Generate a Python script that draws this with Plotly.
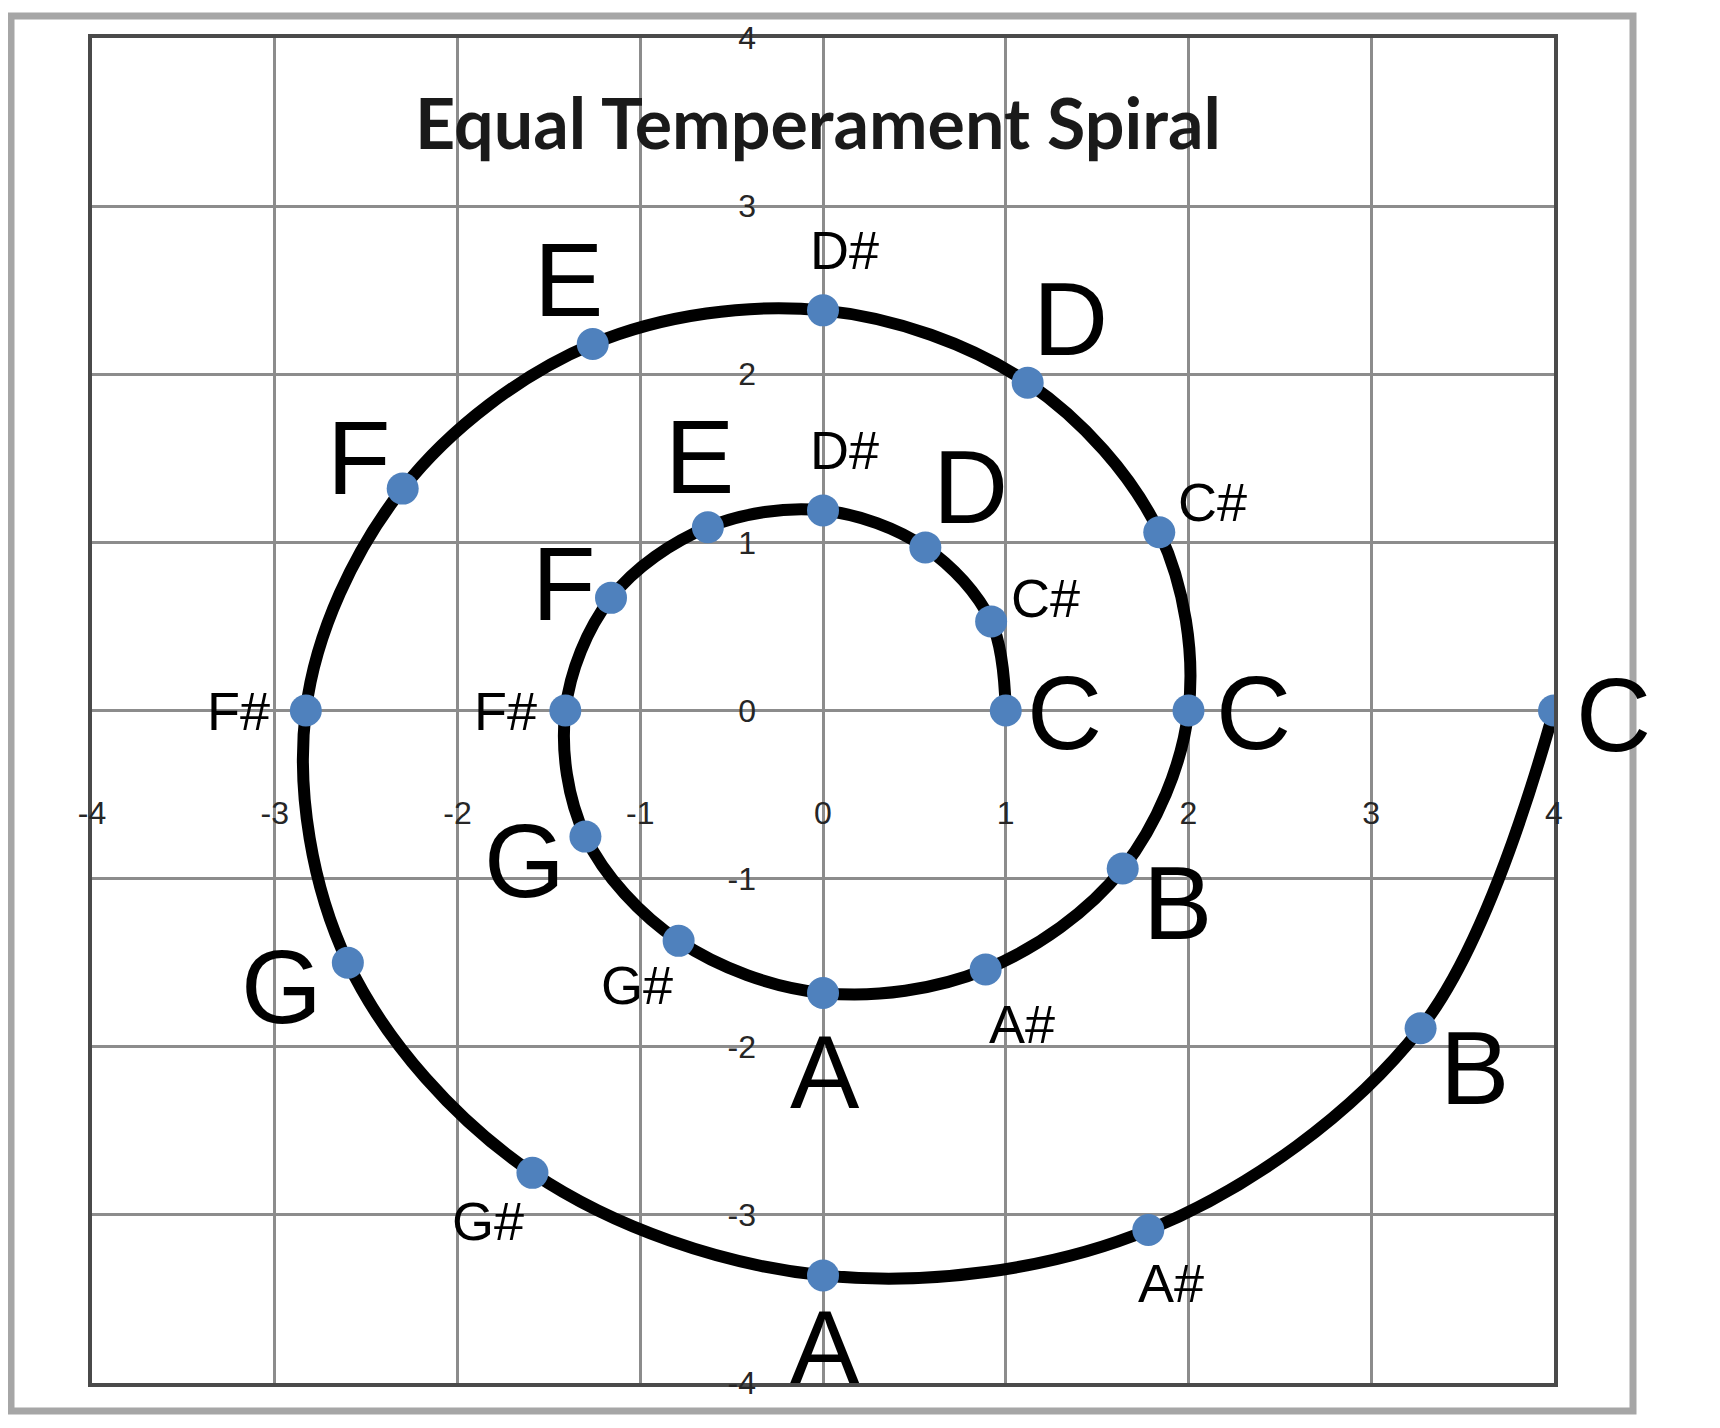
import plotly.graph_objects as go

# ---- data ----
NOTES = ["C", "C#", "D", "D#", "E", "F", "F#", "G", "G#", "A", "A#", "B",
         "C", "C#", "D", "D#", "E", "F", "F#", "G", "G#", "A", "A#", "B", "C"]
X_VALUES = [1.00, 0.92, 0.56, 0.00, -0.63, -1.16, -1.41, -1.30, -0.79, 0.00, 0.89, 1.64,
            2.00, 1.84, 1.12, 0.00, -1.26, -2.30, -2.83, -2.60, -1.59, 0.00, 1.78, 3.27, 4.00]
Y_VALUES = [0.00, 0.53, 0.97, 1.19, 1.09, 0.67, 0.00, -0.75, -1.37, -1.68, -1.54, -0.94,
            0.00, 1.06, 1.95, 2.38, 2.18, 1.32, 0.00, -1.50, -2.75, -3.36, -3.09, -1.89, 0.00]
TICK_VALUES = [-4, -3, -2, -1, 0, 1, 2, 3, 4]
TICK_LABELS = ["-4", "-3", "-2", "-1", "0", "1", "2", "3", "4"]
TITLE = "Equal Temperament Spiral"

# ---- styling ----
LABEL_FONT = "Liberation Sans, Arial, sans-serif"
BIG_SIZE = 104
SMALL_SIZE = 54
# pixel offsets of each data label from its point (dx right, dy down)
LABEL_SHIFTS = [(59, 2), (54, -23), (45, -60), (21, -60), (-8, -70), (-47, -14),
                (-60, 0), (-61, 24), (-42, 44), (2, 79), (36, 55), (55, 34),
                (65, 2), (53, -30), (43, -64), (21, -60), (-24, -64), (-44, -31),
                (-67, 0), (-66, 24), (-44, 48), (2, 72), (23, 53), (54, 40), (59, 4)]

W, H = 1704, 1412
ML, MR, MT, MB = 84, 158, 27, 37
PW, PH = W - ML - MR, H - MT - MB

fig = go.Figure()
fig.add_trace(go.Scatter(
    x=X_VALUES, y=Y_VALUES, mode="lines+markers",
    line=dict(color="black", width=12, shape="spline", smoothing=1.0),
    marker=dict(color="#4F81BD", size=32, line=dict(width=0)),
    hoverinfo="skip", showlegend=False,
))
# helper trace to activate the tick-label axes
fig.add_trace(go.Scatter(x=X_VALUES, y=Y_VALUES, mode="none", xaxis="x2", yaxis="y2",
                         hoverinfo="skip", showlegend=False))

for note, xv, yv, (dx, dy) in zip(NOTES, X_VALUES, Y_VALUES, LABEL_SHIFTS):
    fig.add_annotation(
        x=xv, y=yv, text=note, showarrow=False,
        xanchor="center", yanchor="middle", xshift=dx, yshift=-dy,
        font=dict(family=LABEL_FONT, size=SMALL_SIZE if "#" in note else BIG_SIZE,
                  color="black"),
    )

grid = dict(range=[-4, 4], tickmode="array", tickvals=TICK_VALUES, showticklabels=False,
            showgrid=True, gridcolor="#8c8c8c", gridwidth=3,
            zeroline=True, zerolinecolor="#8c8c8c", zerolinewidth=3,
            showline=True, mirror=True, linecolor="#4a4a4a", linewidth=4,
            ticks="", fixedrange=True)

tickfont = dict(family=LABEL_FONT, size=32, color="#262626")

# outer frame in paper coordinates (page px -> paper)
def px_to_paper_x(px):
    return (px - 8 - ML) / PW

def px_to_paper_y(py):
    return (H - MB - (py - 8)) / PH

fig.add_shape(type="rect", xref="paper", yref="paper",
              x0=px_to_paper_x(11), x1=px_to_paper_x(1633),
              y0=px_to_paper_y(1411), y1=px_to_paper_y(13),
              line=dict(color="#a6a6a6", width=7), fillcolor="rgba(0,0,0,0)", layer="below")

fig.update_layout(
    width=W, height=H,
    margin=dict(l=ML, r=MR, t=MT, b=MB, pad=0),
    paper_bgcolor="white", plot_bgcolor="white",
    xaxis=grid,
    yaxis=grid,
    xaxis2=dict(range=[-4, 4], overlaying="x", anchor="free", position=px_to_paper_y(790),
                tickmode="array", tickvals=TICK_VALUES, ticktext=TICK_LABELS,
                showgrid=False, zeroline=False, showline=False, ticks="",
                tickfont=tickfont, fixedrange=True),
    yaxis2=dict(range=[-4, 4], overlaying="y", anchor="free", position=px_to_paper_x(756),
                tickmode="array", tickvals=TICK_VALUES, ticktext=TICK_LABELS,
                showgrid=False, zeroline=False, showline=False, ticks="",
                tickfont=tickfont, fixedrange=True),
    title=dict(text=TITLE, x=px_to_paper_x(818), xref="paper", xanchor="center",
               y=1 - (124 - 8) / H, yref="container", yanchor="middle",
               font=dict(family="Lato, Open Sans, sans-serif", size=70, color="#1a1a1a",
                         weight="bold")),
)

fig.write_html("out.html")
